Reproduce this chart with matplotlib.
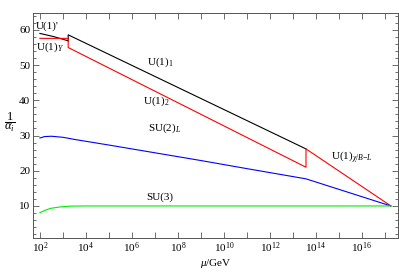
import numpy as np
import matplotlib
matplotlib.use("Agg")
import matplotlib.pyplot as plt
from matplotlib.ticker import FixedLocator, NullFormatter

plt.rcParams['font.family'] = ['Liberation Serif', 'DejaVu Serif']
plt.rcParams['mathtext.fontset'] = 'custom'
plt.rcParams['mathtext.rm'] = 'Liberation Serif'
plt.rcParams['mathtext.it'] = 'Liberation Serif:italic'
plt.rcParams['mathtext.bf'] = 'Liberation Serif:bold'

# ---- data (log10 of mu/GeV, 1/alpha) ----
black1_logmu = [2.0, 2.6, 3.23]
black1_val = [59.0, 58.1, 56.9]
black2_logmu = [3.23, 3.23, 13.57]
black2_val = [56.9, 58.6, 26.2]

red_logmu = [2.0, 3.23, 3.23, 13.57, 13.57, 17.26]
red_val = [57.6, 57.6, 55.0, 21.0, 26.2, 10.0]

blue_logmu = [2.0, 2.2, 2.5, 3.0, 3.5, 5.0, 7.0, 9.0, 11.0, 13.57, 17.26]
blue_val = [29.3, 29.7, 29.8, 29.5, 28.9, 27.3, 25.1, 22.9, 20.6, 17.7, 10.0]

green_logmu = [2.0, 2.2, 2.45, 2.85, 3.3, 4.0, 17.26]
green_val = [8.1, 8.7, 9.3, 9.7, 9.95, 10.0, 10.0]

xtick_exps = [2, 4, 6, 8, 10, 12, 14, 16]
ytick_vals = [10, 20, 30, 40, 50, 60]

fig = plt.figure(figsize=(3.99, 2.72), dpi=100)
ax = fig.add_axes([33/399, 1-238/272, (398-33)/399, (238-13)/272])

def pw(a):
    return 10.0 ** np.array(a)

lw = 0.8
ax.plot(pw(black1_logmu), black1_val, color='black', lw=lw)
ax.plot(pw(black2_logmu), black2_val, color='black', lw=lw)
ax.plot(pw(red_logmu), red_val, color='#ff0000', lw=lw)
ax.plot(pw(blue_logmu), blue_val, color='#0000ff', lw=lw)
ax.plot(pw(green_logmu), green_val, color='#00ee00', lw=lw)

ax.set_xscale('log')
ax.set_xlim(10**1.7, 10**17.57)
ax.set_ylim(0.9, 64.8)

ax.xaxis.set_major_locator(FixedLocator([10.0**e for e in xtick_exps]))
ax.set_xticklabels([r'$10^{%d}$' % e for e in xtick_exps])
ax.xaxis.set_minor_locator(FixedLocator([10.0**e for e in range(3, 18, 2)]))
ax.xaxis.set_minor_formatter(NullFormatter())
ax.yaxis.set_major_locator(FixedLocator(ytick_vals))
ax.yaxis.set_minor_locator(FixedLocator([v for v in range(2, 65, 2) if v % 10 != 0]))

ax.tick_params(which='both', direction='in', top=True, right=True,
               labelsize=8, width=0.6, color='#555555', pad=2)
ax.tick_params(which='major', length=4)
ax.tick_params(which='minor', length=2.2)
ax.tick_params(axis='x', which='minor', length=4)
for s in ax.spines.values():
    s.set_linewidth(0.7)
    s.set_color('#555555')

fs = 8
def lab(px, py, s):
    fig.text(px/399, 1-py/272, s, ha='center', va='center', fontsize=fs)

lab(47, 26, r"U(1)'")
lab(50, 47, r"U(1)$_{Y}$")
lab(160, 62, r"U(1)$_{1}$")
lab(156, 101, r"U(1)$_{2}$")
lab(165, 128, r"SU(2)$_{L}$")
lab(160, 197, r"SU(3)")
lab(352, 157, r"U(1)$_{\chi/B\mathrm{-}L}$")

fig.text(216/399, 1-264/272, r'$\mu$/GeV', ha='center', va='center', fontsize=fs)
fig.text(10/399, 1-122/272, r'$\dfrac{1}{\alpha_i}$', ha='center', va='center', fontsize=9)

fig.savefig('out.png', dpi=100)
